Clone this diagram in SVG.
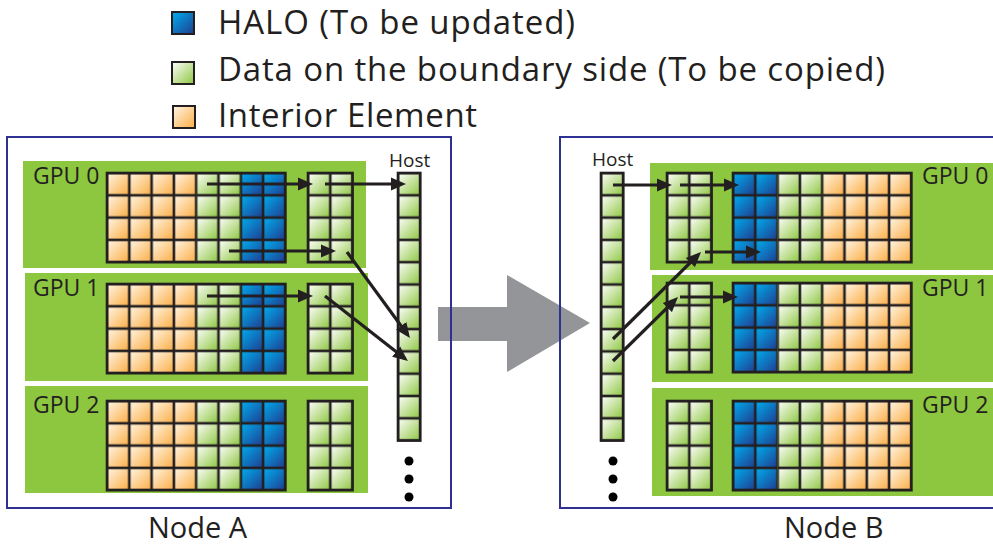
<svg xmlns="http://www.w3.org/2000/svg" xmlns:xlink="http://www.w3.org/1999/xlink" width="993" height="545" viewBox="0 0 993 545">
  <style>
    text { font-family: "Open Sans", "Liberation Sans", sans-serif; fill: #231f20; }
    .legend { font-size: 33px; }
    .gpu { font-size: 23px; }
    .host { font-size: 19px; }
    .nodelabel { font-size: 29px; }
    .frame { fill: none; stroke: #2e3192; stroke-width: 2; }
    .panel { fill: #8dc63f; }
    .outline { fill: none; stroke: #231f20; stroke-width: 2.6; }
    .swatch { stroke: #231f20; stroke-width: 2; }
    .link { fill: none; stroke: #231f20; stroke-width: 3.2; marker-end: url(#head); }
    .dot { fill: #000; }
  </style>
  <defs>
    <linearGradient id="gO" x1="0" y1="0" x2="1" y2="1">
      <stop offset="0" stop-color="#fff6e6"/>
      <stop offset="1" stop-color="#fbad45"/>
    </linearGradient>
    <linearGradient id="gG" x1="0" y1="0" x2="1" y2="1">
      <stop offset="0" stop-color="#ffffff"/>
      <stop offset="1" stop-color="#8dc63f"/>
    </linearGradient>
    <linearGradient id="gB" x1="0" y1="0" x2="1" y2="1">
      <stop offset="0" stop-color="#00aeef"/>
      <stop offset="1" stop-color="#1f3c8f"/>
    </linearGradient>

    <!-- one cell per tile, edges split between neighbouring tiles -->
    <pattern id="pO" width="22.3" height="22.3" patternUnits="userSpaceOnUse">
      <rect width="22.3" height="22.3" fill="url(#gO)"/>
      <rect width="22.3" height="22.3" fill="none" stroke="#231f20" stroke-width="2.6"/>
    </pattern>
    <pattern id="pG" width="22.3" height="22.3" patternUnits="userSpaceOnUse">
      <rect width="22.3" height="22.3" fill="url(#gG)"/>
      <rect width="22.3" height="22.3" fill="none" stroke="#231f20" stroke-width="2.6"/>
    </pattern>
    <pattern id="pB" width="22.3" height="22.3" patternUnits="userSpaceOnUse">
      <rect width="22.3" height="22.3" fill="url(#gB)"/>
      <rect width="22.3" height="22.3" fill="none" stroke="#231f20" stroke-width="2.6"/>
    </pattern>

    <marker id="head" markerUnits="userSpaceOnUse" markerWidth="16" markerHeight="14" viewBox="0 0 16 14" refX="11" refY="7" orient="auto">
      <path d="M0,0.5 L15,7 L0,13.5 z" fill="#231f20"/>
    </marker>

    <!-- GPU subdomain on node A: interior | boundary | halo, then boundary copy buffer -->
    <g id="gridA">
      <rect width="89.2" height="89.2" fill="url(#pO)"/>
      <rect x="89.2" width="44.6" height="89.2" fill="url(#pG)"/>
      <rect x="133.8" width="44.6" height="89.2" fill="url(#pB)"/>
      <rect class="outline" width="178.4" height="89.2"/>
      <g transform="translate(201,0)">
        <rect width="44.6" height="89.2" fill="url(#pG)"/>
        <rect class="outline" width="44.6" height="89.2"/>
      </g>
    </g>

    <!-- GPU subdomain on node B: receive buffer, then halo | boundary | interior -->
    <g id="gridB">
      <rect width="44.6" height="89.2" fill="url(#pG)"/>
      <rect class="outline" width="44.6" height="89.2"/>
      <g transform="translate(66,0)">
        <rect width="44.6" height="89.2" fill="url(#pB)"/>
        <rect x="44.6" width="44.6" height="89.2" fill="url(#pG)"/>
        <rect x="89.2" width="89.2" height="89.2" fill="url(#pO)"/>
        <rect class="outline" width="178.4" height="89.2"/>
      </g>
    </g>

    <g id="hostColumn">
      <rect width="22.3" height="267.6" fill="url(#pG)"/>
      <rect class="outline" width="22.3" height="267.6"/>
    </g>
  </defs>

  <!-- legend -->
  <g id="legend">
    <rect class="swatch" x="172" y="12" width="22" height="22" fill="url(#gB)"/>
    <text class="legend" x="218" y="34" textLength="357">HALO (To be updated)</text>
    <rect class="swatch" x="172" y="62" width="22" height="22" fill="url(#gG)"/>
    <text class="legend" x="218" y="81" textLength="667">Data on the boundary side (To be copied)</text>
    <rect class="swatch" x="173" y="106" width="22" height="22" fill="url(#gO)"/>
    <text class="legend" x="218" y="127" textLength="259">Interior Element</text>
  </g>

  <!-- transfer between nodes -->
  <polygon id="transfer" points="438,307 507,307 507,275 590,323 507,372 507,341 438,341" fill="#939598"/>

  <!-- Node A -->
  <g id="nodeA">
    <rect class="frame" x="7" y="137" width="444" height="371"/>
    <g id="nodeA-gpu0">
      <rect class="panel" x="23" y="161" width="343" height="107"/>
      <text class="gpu" x="33" y="184">GPU 0</text>
      <use xlink:href="#gridA" x="107" y="173"/>
    </g>
    <g id="nodeA-gpu1">
      <rect class="panel" x="25" y="273" width="343" height="108"/>
      <text class="gpu" x="33" y="296">GPU 1</text>
      <use xlink:href="#gridA" x="107" y="284"/>
    </g>
    <g id="nodeA-gpu2">
      <rect class="panel" x="25" y="386" width="343" height="107"/>
      <text class="gpu" x="33" y="413">GPU 2</text>
      <use xlink:href="#gridA" x="107" y="401"/>
    </g>
    <g id="nodeA-host">
      <text class="host" x="389" y="167">Host</text>
      <use xlink:href="#hostColumn" x="398" y="173"/>
      <circle class="dot" cx="409" cy="461" r="4.5"/>
      <circle class="dot" cx="409" cy="479" r="4.5"/>
      <circle class="dot" cx="409" cy="497" r="4.5"/>
    </g>
    <text class="nodelabel" x="148" y="538">Node A</text>
  </g>

  <!-- Node B -->
  <g id="nodeB">
    <rect class="frame" x="560" y="137" width="460" height="371"/>
    <g id="nodeB-gpu0">
      <rect class="panel" x="650" y="163" width="350" height="107"/>
      <text class="gpu" x="922" y="184">GPU 0</text>
      <use xlink:href="#gridB" x="667" y="173"/>
    </g>
    <g id="nodeB-gpu1">
      <rect class="panel" x="652" y="275" width="350" height="107"/>
      <text class="gpu" x="922" y="296">GPU 1</text>
      <use xlink:href="#gridB" x="667" y="283"/>
    </g>
    <g id="nodeB-gpu2">
      <rect class="panel" x="652" y="388" width="350" height="108"/>
      <text class="gpu" x="922" y="413">GPU 2</text>
      <use xlink:href="#gridB" x="667" y="401"/>
    </g>
    <g id="nodeB-host">
      <text class="host" x="592" y="166">Host</text>
      <use xlink:href="#hostColumn" x="601" y="173"/>
      <circle class="dot" cx="613" cy="461" r="4.5"/>
      <circle class="dot" cx="613" cy="479" r="4.5"/>
      <circle class="dot" cx="613" cy="497" r="4.5"/>
    </g>
    <text class="nodelabel" x="784" y="538">Node B</text>
  </g>

  <!-- copy paths -->
  <g id="connectors">
    <line class="link" x1="207" y1="184" x2="309" y2="184"/>
    <line class="link" x1="325" y1="184" x2="402" y2="184"/>
    <line class="link" x1="229" y1="251" x2="332" y2="251"/>
    <line class="link" x1="347" y1="252" x2="407.6" y2="334.8"/>
    <line class="link" x1="207" y1="296" x2="309" y2="296"/>
    <line class="link" x1="325" y1="296" x2="404.8" y2="358.5"/>

    <line class="link" x1="613" y1="185" x2="668" y2="185"/>
    <line class="link" x1="680" y1="185" x2="735" y2="185"/>
    <line class="link" x1="705" y1="252" x2="757" y2="252"/>
    <line class="link" x1="613" y1="339" x2="698.2" y2="254.8"/>
    <line class="link" x1="613" y1="361" x2="675.2" y2="299.8"/>
    <line class="link" x1="680" y1="297" x2="734" y2="297"/>
  </g>
</svg>
